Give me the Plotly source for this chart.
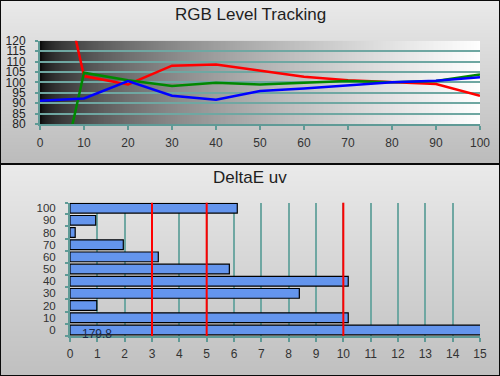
import base64
import struct
import zlib

import plotly.graph_objects as go

# ---------------- data ----------------
levels = [0, 10, 20, 30, 40, 50, 60, 70, 80, 90, 100]
red = [197, 103, 99, 108, 108.6, 105.5, 102.7, 101, 100, 99.2, 93.6]
green = [10, 104.6, 101, 98.2, 99.8, 99, 99.8, 100.6, 100, 100.6, 103.8]
blue = [91.2, 92.3, 100.6, 93.6, 91.6, 95.8, 97.1, 98.4, 100, 100.8, 102.4]

de_levels = [0, 10, 20, 30, 40, 50, 60, 70, 80, 90, 100]
deltae = [179.8, 10.18, 0.98, 8.39, 10.18, 5.83, 3.23, 1.95, 0.19, 0.94, 6.12]
thresholds = [3, 5, 10]

top_xticks = list(range(0, 101, 10))
top_yticks = list(range(80, 121, 5))
bot_xticks = list(range(0, 16))
bot_yticks = list(range(0, 101, 10))

W, H = 500, 376
TEAL = "#5f9a96"
TEAL_GRID = "#6fa7a2"


# ---------------- helpers for gradient images ----------------
def png_uri(w, h, pix):
    raw = bytearray()
    for y in range(h):
        raw.append(0)
        for x in range(w):
            raw.extend(pix(x, y))

    def chunk(tag, data):
        c = struct.pack(">I", len(data)) + tag + data
        return c + struct.pack(">I", zlib.crc32(tag + data) & 0xFFFFFFFF)

    png = b"\x89PNG\r\n\x1a\n"
    png += chunk(b"IHDR", struct.pack(">IIBBBBB", w, h, 8, 2, 0, 0, 0))
    png += chunk(b"IDAT", zlib.compress(bytes(raw), 9))
    png += chunk(b"IEND", b"")
    return "data:image/png;base64," + base64.b64encode(png).decode()


def bg_pix(x, y):
    if x == 0 or x == W - 1 or y == 0 or y == H - 1 or y in (163, 164):
        return (10, 10, 10)
    if y < 163:
        t = (y - 1) / 161
        v = int(234 - 46 * t)
    else:
        t = (y - 165) / 210
        v = int(234 - 42 * t)
    return (v, v, v)


def grad_pix(x, y):
    t = x / 255
    v = int(12 + 243 * t ** 0.55)
    return (v, v, v)


bg_uri = png_uri(W, H, bg_pix)
grad_uri = png_uri(256, 1, grad_pix)

# ---------------- figure ----------------
fig = go.Figure()

for vals, col in ((red, "#ff0000"), (green, "#008800"), (blue, "#0000ff")):
    fig.add_trace(go.Scatter(x=levels, y=vals, mode="lines",
                             line=dict(color=col, width=2.5),
                             xaxis="x", yaxis="y", showlegend=False,
                             hoverinfo="skip"))

fig.add_trace(go.Bar(x=deltae, y=de_levels, orientation="h", width=8,
                     marker=dict(color="#6495ED", line=dict(color="black", width=1.2)),
                     xaxis="x2", yaxis="y2", showlegend=False, hoverinfo="skip"))


def py(px):
    return 1 - px / H


FAM = "Liberation Sans, Arial, sans-serif"

fig.update_layout(
    template="none",
    width=W, height=H, autosize=False,
    margin=dict(l=0, r=0, t=0, b=0, pad=0, autoexpand=False),
    paper_bgcolor="#d8d8d8",
    plot_bgcolor="white",
    font=dict(family=FAM, size=12, color="#333333"),
    xaxis=dict(domain=[40 / W, 480 / W], range=[0, 100], tickvals=top_xticks,
               showgrid=False, zeroline=False, showline=True, linecolor=TEAL,
               linewidth=2, ticks="outside", tickcolor=TEAL, tickwidth=2, ticklen=4,
               ticklabelstandoff=3, anchor="y", automargin=False,
               tickfont=dict(size=12)),
    yaxis=dict(domain=[py(124), py(40.7)], range=[80, 120], tickvals=top_yticks,
               showgrid=True, gridcolor=TEAL_GRID, gridwidth=1.5, zeroline=False,
               showline=True, linecolor=TEAL, linewidth=2, ticks="outside",
               tickcolor=TEAL, tickwidth=2, ticklen=3, ticklabelstandoff=7,
               anchor="x", automargin=False,
               tickfont=dict(size=12, color="#222222")),
    xaxis2=dict(domain=[70 / W, 480 / W], range=[0, 15], tickvals=bot_xticks,
                showgrid=True, gridcolor=TEAL_GRID, gridwidth=1.5, zeroline=False,
                showline=True, linecolor=TEAL, linewidth=2, ticks="outside",
                tickcolor=TEAL, tickwidth=2, ticklen=4, ticklabelstandoff=2,
                anchor="y2", automargin=False, tickfont=dict(size=12)),
    yaxis2=dict(domain=[py(336), py(202.7)], range=[-5, 104.5], tickvals=bot_yticks,
                showgrid=False, zeroline=False, showline=True, linecolor=TEAL,
                linewidth=2, ticks="", ticklabelstandoff=10, anchor="x2",
                automargin=False, tickfont=dict(size=11.5),
                minor=dict(tickvals=[-5 + 10 * i for i in range(11)] + [104.5],
                           ticks="outside", ticklen=3, tickcolor=TEAL, tickwidth=2,
                           showgrid=False)),
    images=[
        dict(source=bg_uri, xref="paper", yref="paper", x=0, y=1, sizex=1, sizey=1,
             xanchor="left", yanchor="top", sizing="stretch", layer="below"),
        dict(source=grad_uri, xref="x", yref="y", x=0, y=120, sizex=100, sizey=40,
             xanchor="left", yanchor="top", sizing="stretch", layer="below"),
    ],
    annotations=[
        dict(text="RGB Level Tracking", xref="paper", yref="paper", x=0.5, y=py(14),
             yanchor="middle", showarrow=False,
             font=dict(size=17, color="#1e1e1e", family=FAM)),
        dict(text="DeltaE uv", xref="paper", yref="paper", x=0.5, y=py(177),
             yanchor="middle", showarrow=False,
             font=dict(size=17, color="#1e1e1e", family=FAM)),
        dict(text=f"{deltae[0]}", xref="x2", yref="y2", x=1.0, y=de_levels[0] - 3,
             yanchor="middle", showarrow=False,
             font=dict(size=12, color="#1c2a48", family=FAM)),
    ],
    shapes=[dict(type="line", xref="x2", yref="y2 domain", x0=t, x1=t, y0=0, y1=1,
                 line=dict(color="#ff0000", width=2), layer="above")
            for t in thresholds],
)

fig.write_html(
    "out.html",
    config={"displayModeBar": False},
    post_script="document.body.style.margin='0';document.body.style.overflow='hidden';",
)
